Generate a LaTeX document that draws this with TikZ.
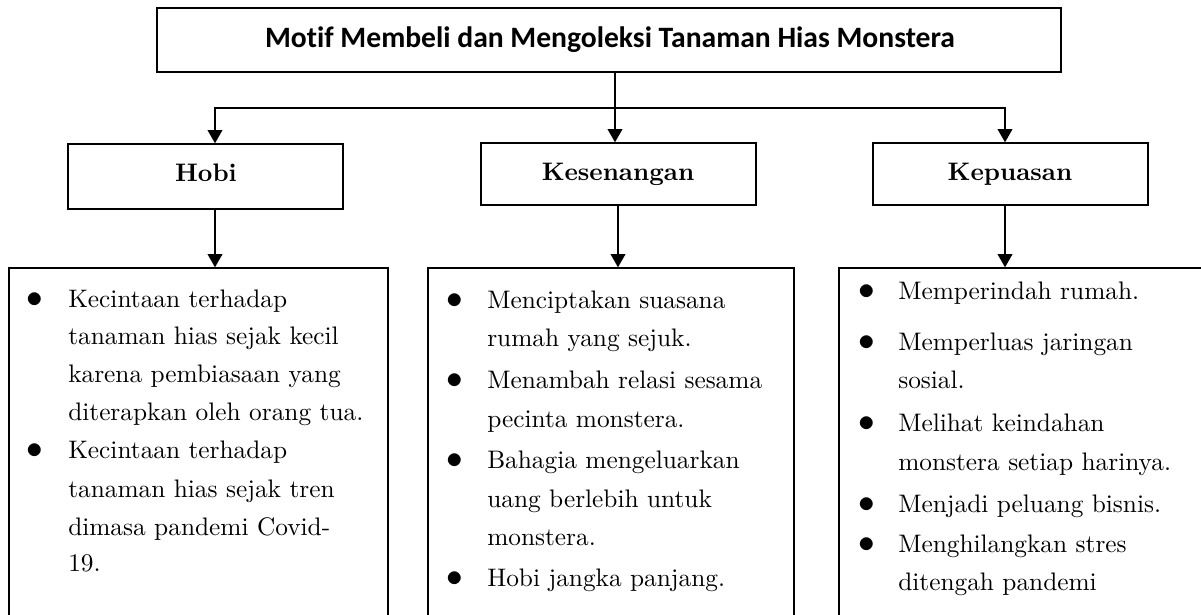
\documentclass[tikz,border=0pt]{standalone}
\usepackage{fontspec}
\setmainfont{lmroman10}[Extension=.otf,UprightFont=*-regular,BoldFont=*-bold,ItalicFont=*-italic]
\newfontfamily\titlefont{Carlito}[Ligatures=NoCommon]
\usetikzlibrary{arrows.meta}
\begin{document}
\begin{tikzpicture}[x=0.75pt,y=-0.75pt,
  box/.style={draw, line width=1pt, inner sep=0pt},
  arr/.style={line width=1.5pt, -{Triangle[width=11pt,length=10pt]}},
  body/.style={anchor=base west, inner sep=0pt, font=\fontsize{19}{23}\selectfont},
  bul/.style={anchor=base, inner sep=0pt, font=\fontsize{25}{30}\selectfont},
  head/.style={anchor=base, inner sep=0pt, font=\fontsize{19}{23}\selectfont\bfseries},
  ttl/.style={anchor=base, inner sep=0pt, font=\titlefont\bfseries\fontsize{22.2}{26}\selectfont}]
\useasboundingbox (0,0) rectangle (1201,614);
\clip (0,0) rectangle (1201,614);
% boxes
\node[box, minimum width=678pt, minimum height=48pt] (title) at (609,40) {};
\node[ttl] (titletext) at (610,47) {Motif Membeli dan Mengoleksi Tanaman Hias Monstera};
\node[box, minimum width=206.25pt, minimum height=48.75pt] (hobi) at (205.5,176.5) {};
\node[box, minimum width=206.25pt, minimum height=46.5pt] (kes) at (618.5,174) {};
\node[box, minimum width=206.25pt, minimum height=46.5pt] (kep) at (1010.5,174) {};
\node[head] (hobit) at (206,181) {Hobi};
\node[head] (kest) at (618,180) {Kesenangan};
\node[head] (kept) at (1010,180) {Kepuasan};
\node[box, minimum width=284.25pt, minimum height=264pt] (lbox) at (198.5,444) {};
\node[box, minimum width=274.5pt, minimum height=264pt] (mbox) at (611,444) {};
\node[box, minimum width=278.25pt, minimum height=264pt] (rbox) at (1024.5,444) {};
% connector x positions
\coordinate (hx) at (215,0);
\coordinate (kx) at (615,0);
\coordinate (kx2) at (618,0);
\coordinate (px) at (1005,0);
\coordinate (j) at (615,108);
\draw[arr] (title.south -| kx) -- (kes.north -| kx);
\draw[arr] (j) -| (hobi.north -| hx);
\draw[arr] (j) -| (kep.north -| px);
\draw[arr] (hobi.south -| hx) -- (lbox.north -| hx);
\draw[arr] (kes.south -| kx2) -- (mbox.north -| kx2);
\draw[arr] (kep.south -| px) -- (rbox.north -| px);
% left texts
\foreach \y/\t [count=\i] in {307/Kecintaan terhadap, 344/tanaman hias sejak kecil, 382/karena pembiasaan yang, 420/diterapkan oleh orang tua., 458/Kecintaan terhadap, 497/tanaman hias sejak tren, 535/dimasa pandemi Covid-, 571/19.}
  \node[body] (l\i) at (68,\y) {\t};
\foreach \y [count=\i] in {307,458}
  \node[bul] (lb\i) at (35,\y) {$\bullet$};
% middle texts
\foreach \y/\t [count=\i] in {308/Menciptakan suasana, 346/rumah yang sejuk., 388/Menambah relasi sesama, 427/pecinta monstera., 468/Bahagia mengeluarkan, 507/uang berlebih untuk, 545/monstera., 586/Hobi jangka panjang.}
  \node[body] (m\i) at (487,\y) {\t};
\foreach \y [count=\i] in {308,388,468,586}
  \node[bul] (mb\i) at (455,\y) {$\bullet$};
% right texts
\foreach \y/\t [count=\i] in {299/Memperindah rumah., 350/Memperluas jaringan, 388/sosial., 431/Melihat keindahan, 470/monstera setiap harinya., 512/Menjadi peluang bisnis., 552/Menghilangkan stres, 590/ditengah pandemi}
  \node[body] (r\i) at (898,\y) {\t};
\foreach \y [count=\i] in {299,350,431,512,552}
  \node[bul] (rb\i) at (867,\y) {$\bullet$};
\end{tikzpicture}
\end{document}
